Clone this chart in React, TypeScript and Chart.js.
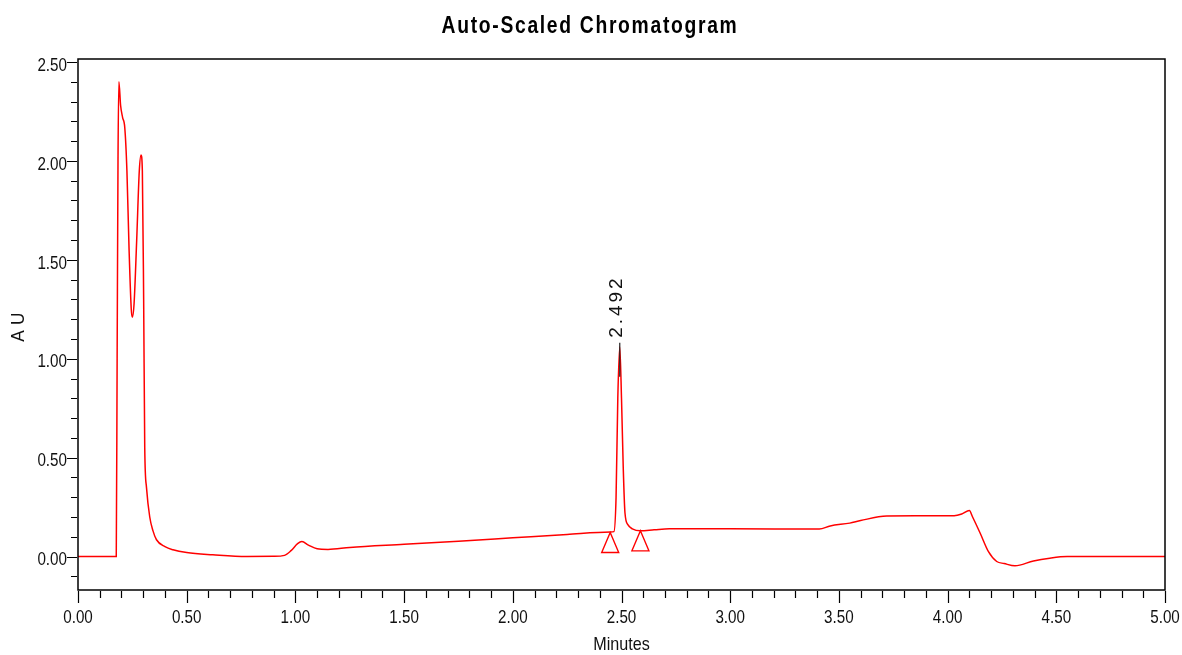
import { useEffect, useRef } from 'react';
import { Chart, registerables } from 'chart.js';

Chart.register(...registerables);

const SANS = '"Liberation Sans", Arial, sans-serif';

const chartTitle = 'Auto-Scaled Chromatogram';
const xAxisTitle = 'Minutes';
const yAxisTitle = 'AU';

// Detector trace: retention time (min) and absorbance (AU)
const timeMin = [
  0.0, 0.176, 0.18, 0.184, 0.188, 0.196, 0.205, 0.215, 0.225, 0.235, 0.245, 0.25, 0.258,
  0.27, 0.282, 0.29, 0.296, 0.302, 0.307, 0.315, 0.33, 0.345, 0.361, 0.4, 0.437, 0.5,
  0.62, 0.775, 0.9, 0.95, 0.98, 1.01, 1.03, 1.06, 1.1, 1.15, 1.25, 1.5, 1.75, 2.0, 2.25,
  2.45, 2.465, 2.475, 2.483, 2.492, 2.5, 2.508, 2.516, 2.53, 2.55, 2.587, 2.65, 2.72, 3.0,
  3.41, 3.46, 3.55, 3.6, 3.72, 3.85, 4.03, 4.065, 4.1, 4.115, 4.15, 4.188, 4.226, 4.26,
  4.31, 4.395, 4.47, 4.55, 5.0,
];
const absorbanceAU = [
  0.0, 0.0, 1.0, 2.0, 2.4, 2.28, 2.22, 2.17, 1.95, 1.55, 1.25, 1.21, 1.28,
  1.6, 1.95, 2.03, 1.95, 1.3, 0.55, 0.35, 0.2, 0.13, 0.085, 0.05, 0.034, 0.02,
  0.009, 0.0, 0.001, 0.006, 0.03, 0.065, 0.076, 0.058, 0.039, 0.036, 0.046, 0.062, 0.078, 0.095, 0.112,
  0.124, 0.126, 0.3, 0.8, 1.06, 0.8, 0.45, 0.22, 0.16, 0.14, 0.13, 0.135, 0.14, 0.14,
  0.139, 0.155, 0.169, 0.182, 0.205, 0.206, 0.206, 0.215, 0.233, 0.2, 0.118, 0.025, -0.025, -0.035,
  -0.047, -0.022, -0.008, 0.0, 0.0,
];

// Integrated peak: apex time, apex height and its annotation
const peakTimes = [2.492];
const peakHeights = [1.06];
const peakLabels = ['2.492'];

// Baseline start / end markers of the integrated peak
const markerTimes = [2.448, 2.587];
const markerLevels = [0.122, 0.13];

const xMin = 0;
const xMax = 5;
const yMin = -0.169;
const yMax = 2.515;
const majorStep = 0.5;
const minorStep = 0.1;

const isMajor = (v: number) => Math.abs(v / majorStep - Math.round(v / majorStep)) < 1e-6;

const minorTicks = (lo: number, hi: number) => {
  const out: { value: number }[] = [];
  for (let i = Math.ceil(lo / minorStep - 1e-9); i * minorStep <= hi + 1e-9; i++) {
    out.push({ value: Math.round(i) / 10 });
  }
  return out;
};

// Draws text horizontally condensed (narrow face look)
const condensedText = (
  ctx: CanvasRenderingContext2D,
  text: string,
  x: number,
  y: number,
  align: CanvasTextAlign,
  font: string,
  sx: number,
  spacing = '0px'
) => {
  ctx.save();
  ctx.translate(x, y);
  ctx.scale(sx, 1);
  ctx.font = font;
  (ctx as any).letterSpacing = spacing;
  ctx.textAlign = align;
  ctx.textBaseline = 'middle';
  ctx.fillText(text, 0, 0);
  ctx.restore();
};

const decorations = {
  id: 'chromDecor',
  afterDatasetsDraw(chart: any) {
    const { ctx, chartArea, scales } = chart;
    const xs = scales.x;
    const ys = scales.y;
    ctx.save();

    // frame
    ctx.strokeStyle = '#000';
    ctx.lineWidth = 1.5;
    ctx.strokeRect(chartArea.left, chartArea.top, chartArea.right - chartArea.left, chartArea.bottom - chartArea.top);

    // tick marks (major longer than minor)
    ctx.lineWidth = 1.2;
    ctx.beginPath();
    for (const t of xs.ticks) {
      const px = Math.round(xs.getPixelForValue(t.value)) + 0.5;
      const len = isMajor(t.value) ? 12 : 7;
      ctx.moveTo(px, chartArea.bottom + 1);
      ctx.lineTo(px, chartArea.bottom + 1 + len);
    }
    for (const t of ys.ticks) {
      const py = Math.round(ys.getPixelForValue(t.value)) + 0.5;
      const len = isMajor(t.value) ? 10 : 6;
      ctx.moveTo(chartArea.left - 1, py);
      ctx.lineTo(chartArea.left - 1 - len, py);
    }
    ctx.stroke();

    // tick labels on major ticks
    ctx.fillStyle = '#111';
    const tickFont = `19px ${SANS}`;
    for (const t of xs.ticks) {
      if (!isMajor(t.value)) continue;
      condensedText(ctx, t.value.toFixed(2), xs.getPixelForValue(t.value), chartArea.bottom + 28, 'center', tickFont, 0.8);
    }
    for (const t of ys.ticks) {
      if (!isMajor(t.value)) continue;
      condensedText(ctx, t.value.toFixed(2), chartArea.left - 11, ys.getPixelForValue(t.value) + 3.5, 'right', tickFont, 0.8);
    }

    // baseline markers
    ctx.strokeStyle = '#ff0000';
    ctx.lineWidth = 1.4;
    markerTimes.forEach((t, i) => {
      const px = xs.getPixelForValue(t);
      const py = ys.getPixelForValue(markerLevels[i]);
      ctx.beginPath();
      ctx.moveTo(px, py);
      ctx.lineTo(px + 8.5, py + 20);
      ctx.lineTo(px - 8.5, py + 20);
      ctx.closePath();
      ctx.stroke();
    });

    // peak annotation
    peakTimes.forEach((t, i) => {
      const px = xs.getPixelForValue(t);
      const py = ys.getPixelForValue(peakHeights[i]);
      ctx.strokeStyle = '#222';
      ctx.lineWidth = 1.2;
      ctx.beginPath();
      ctx.moveTo(px, py - 4);
      ctx.lineTo(px, py + 30);
      ctx.stroke();
      ctx.save();
      ctx.translate(px - 3, py - 9);
      ctx.rotate(-Math.PI / 2);
      ctx.fillStyle = '#111';
      ctx.font = `19px ${SANS}`;
      (ctx as any).letterSpacing = '3px';
      ctx.textAlign = 'left';
      ctx.textBaseline = 'middle';
      ctx.fillText(peakLabels[i], 0, 0);
      ctx.restore();
    });

    // titles
    const cx = (chartArea.left + chartArea.right) / 2;
    ctx.fillStyle = '#000';
    condensedText(ctx, chartTitle, 590, 27, 'center', `bold 23px ${SANS}`, 0.84, '2px');
    ctx.fillStyle = '#111';
    condensedText(ctx, xAxisTitle, cx, 645, 'center', `19px ${SANS}`, 0.85);
    ctx.save();
    ctx.translate(19, (chartArea.top + chartArea.bottom) / 2);
    ctx.rotate(-Math.PI / 2);
    condensedText(ctx, yAxisTitle, 0, 0, 'center', `19px ${SANS}`, 0.9, '6px');
    ctx.restore();

    ctx.restore();
  },
};

export default function App() {
  const canvasRef = useRef<HTMLCanvasElement | null>(null);

  useEffect(() => {
    document.body.style.margin = '0';
    document.body.style.background = '#fff';
    const canvas = canvasRef.current;
    if (!canvas) return;

    const chart = new Chart(canvas, {
      type: 'line',
      data: {
        datasets: [
          {
            label: 'Absorbance',
            data: timeMin.map((t, i) => ({ x: t, y: absorbanceAU[i] })),
            borderColor: '#ff0000',
            borderWidth: 1.5,
            pointRadius: 0,
            fill: false,
            cubicInterpolationMode: 'monotone',
          },
        ],
      },
      options: {
        animation: false,
        responsive: true,
        maintainAspectRatio: false,
        layout: { padding: { top: 59, right: 17, left: 0, bottom: 0 } },
        plugins: {
          legend: { display: false },
          title: { display: false },
          tooltip: { enabled: false },
        },
        scales: {
          x: {
            type: 'linear',
            min: xMin,
            max: xMax,
            afterBuildTicks: (scale: any) => {
              scale.ticks = minorTicks(xMin, xMax);
            },
            afterFit: (scale: any) => {
              scale.height = 65;
              scale.paddingLeft = 0;
              scale.paddingRight = 0;
            },
            grid: { display: false, drawTicks: false },
            border: { display: false },
            ticks: { display: false, autoSkip: false },
          },
          y: {
            type: 'linear',
            min: yMin,
            max: yMax,
            afterBuildTicks: (scale: any) => {
              scale.ticks = minorTicks(yMin, yMax);
            },
            afterFit: (scale: any) => {
              scale.width = 78;
              scale.paddingTop = 0;
              scale.paddingBottom = 0;
            },
            grid: { display: false, drawTicks: false },
            border: { display: false },
            ticks: { display: false, autoSkip: false },
          },
        },
      },
      plugins: [decorations],
    });

    return () => chart.destroy();
  }, []);

  return (
    <div style={{ position: 'fixed', left: 0, top: 0, width: 1182, height: 655, background: '#fff' }}>
      <canvas ref={canvasRef} />
    </div>
  );
}
